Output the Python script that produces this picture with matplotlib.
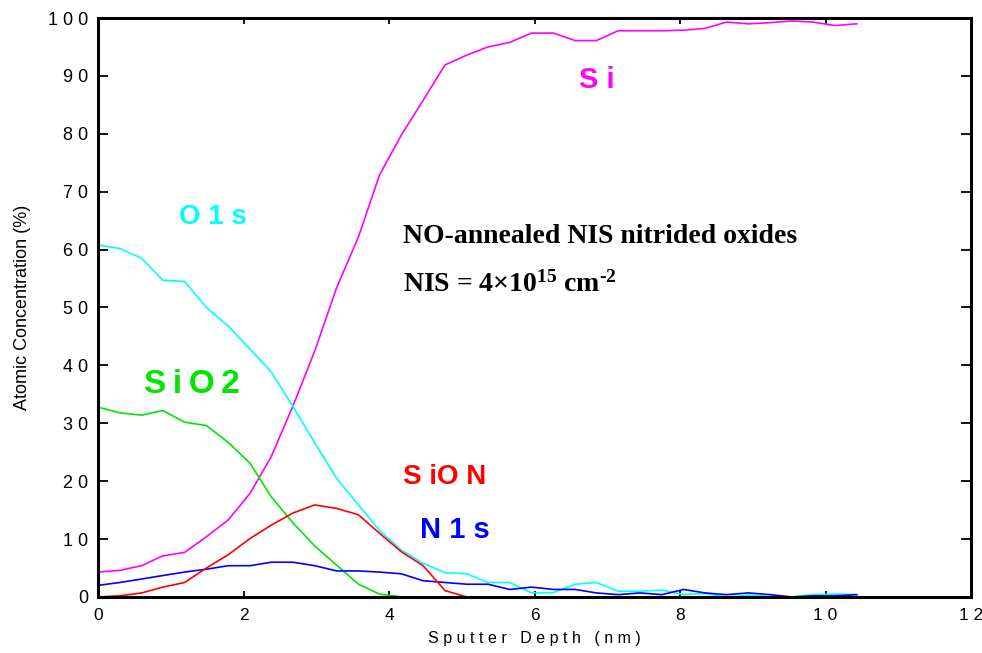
import matplotlib
matplotlib.use("Agg")
import matplotlib.pyplot as plt

plt.rcParams['font.family'] = ['Liberation Sans', 'DejaVu Sans']
plt.rcParams['mathtext.default'] = 'regular'

# Sputter depth (nm) of each XPS profile point
depth = [0.00, 0.30, 0.60, 0.89, 1.19, 1.49, 1.79, 2.09, 2.38, 2.68,
         2.98, 3.28, 3.58, 3.87, 4.17, 4.47, 4.77, 5.07, 5.36, 5.66,
         5.96, 6.26, 6.56, 6.85, 7.15, 7.45, 7.75, 8.05, 8.34, 8.64,
         8.94, 9.24, 9.54, 9.83, 10.13, 10.43]

# Atomic concentration (%) per species
si = [4.3, 4.6, 5.4, 7.1, 7.7, 10.4, 13.3, 17.9, 24.2, 33.0,
      42.5, 53.4, 62.2, 72.9, 79.8, 85.8, 91.9, 93.6, 95.0, 95.8,
      97.4, 97.4, 96.1, 96.1, 97.8, 97.8, 97.8, 97.9, 98.2, 99.3,
      99.0, 99.2, 99.5, 99.3, 98.7, 99.0]
o1s = [60.8, 60.2, 58.5, 54.7, 54.5, 50.0, 46.8, 42.8, 38.9, 32.9,
       26.6, 20.5, 15.9, 11.5, 8.1, 5.8, 4.2, 4.0, 2.5, 2.5,
       0.7, 0.75, 2.2, 2.5, 1.0, 1.0, 1.2, 0.4, 0.6, 0.0,
       0.3, 0.1, 0.0, 0.4, 0.5, 0.4]
sio2 = [32.8, 31.8, 31.4, 32.2, 30.2, 29.6, 26.7, 23.1, 17.3, 12.8,
        8.8, 5.5, 2.2, 0.5, 0.0, 0.0, 0.0, 0.0, 0.0, 0.0,
        0.0, 0.0, 0.0, 0.0, 0.0, 0.0, 0.0, 0.0, 0.0, 0.0,
        0.0, 0.0, 0.0, 0.0, 0.0, 0.0]
sion = [0.0, 0.2, 0.7, 1.7, 2.5, 5.0, 7.3, 10.1, 12.4, 14.5,
        15.9, 15.3, 14.2, 11.0, 7.8, 5.4, 1.1, 0.0, 0.0, 0.0,
        0.0, 0.0, 0.0, 0.0, 0.0, 0.0, 0.0, 0.0, 0.0, 0.0,
        0.0, 0.0, 0.0, 0.0, 0.0, 0.0]
n1s = [2.0, 2.5, 3.1, 3.7, 4.3, 4.8, 5.4, 5.4, 6.0, 6.0,
       5.4, 4.5, 4.5, 4.3, 4.0, 2.8, 2.5, 2.2, 2.2, 1.3,
       1.7, 1.3, 1.3, 0.7, 0.4, 0.7, 0.4, 1.3, 0.7, 0.4,
       0.7, 0.4, 0.0, 0.2, 0.2, 0.4]

x_ticks = [0, 2, 4, 6, 8, 10, 12]
x_tick_labels = ["0", "2", "4", "6", "8", "1 0", "1 2"]
y_ticks = [0, 10, 20, 30, 40, 50, 60, 70, 80, 90, 100]
y_tick_labels = ["0", "1 0", "2 0", "3 0", "4 0", "5 0", "6 0", "7 0", "8 0", "9 0", "1 0 0"]

C_SI = '#FF00FF'
C_O = '#00FFFF'
C_SIO2 = '#00E600'
C_SION = '#FF0000'
C_N = '#0000FF'

fig = plt.figure(figsize=(9.82, 6.53), dpi=100)
ax = fig.add_axes([0.0998, 0.0858, 0.889, 0.8866])

lw = 1.2
ax.plot(depth, si, color=C_SI, lw=lw)
ax.plot(depth, o1s, color=C_O, lw=lw)
ax.plot(depth, sio2, color=C_SIO2, lw=lw)
ax.plot(depth, n1s, color=C_N, lw=lw)
ax.plot(depth, sion, color=C_SION, lw=lw)

ax.set_xlim(0, 12)
ax.set_ylim(0, 100)
ax.set_xticks(x_ticks)
ax.set_xticklabels(x_tick_labels)
ax.set_yticks(y_ticks)
ax.set_yticklabels(y_tick_labels)

for s in ax.spines.values():
    s.set_linewidth(2.2)
ax.tick_params(axis='y', direction='in', length=7, width=1.3, left=True, right=True,
               labelsize=13, pad=7)
ax.tick_params(axis='x', direction='in', length=4.5, width=1.3, top=True, bottom=True,
               labelsize=12.5, pad=8)

ax.set_xlabel("S p u t t e r   D e p t h   ( n m )", fontsize=11.5, labelpad=6)
ax.set_ylabel("Atomic Concentration (%)", fontsize=13, labelpad=12)

lab = dict(fontweight='bold', ha='center', va='baseline')
ax.text(6.85, 87.9, "S i", color=C_SI, fontsize=21, **lab)
ax.text(1.575, 64.4, "O 1 s", color=C_O, fontsize=20, **lab)
ax.text(1.29, 35.3, "S\u2009i\u2009O\u20092", color=C_SIO2, fontsize=24, **lab)
ax.text(4.77, 19.5, "S iO N", color=C_SION, fontsize=20, **lab)
ax.text(4.91, 10.1, "N 1 s", color=C_N, fontsize=21, **lab)

serif = dict(family=['Liberation Serif', 'DejaVu Serif'], fontweight='bold',
             fontsize=20, ha='left', va='baseline', color='black')
ax.text(4.19, 61.1, "NO-annealed NIS nitrided oxides", **serif)
ax.text(4.19, 52.8, "NIS = 4\u00d710$^{15}$ cm$^{\u20102}$", **serif)

fig.savefig("out.png", dpi=100)
